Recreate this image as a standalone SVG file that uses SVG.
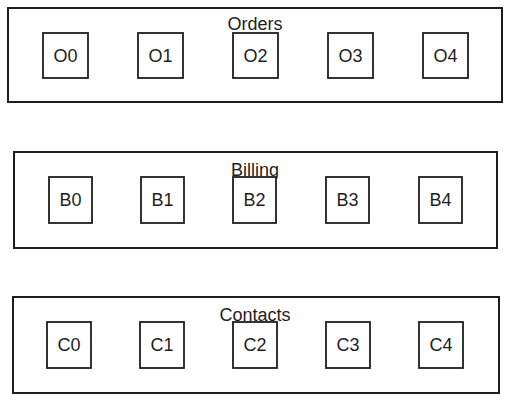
<svg xmlns="http://www.w3.org/2000/svg" width="510" height="403" viewBox="0 0 510 403">
<style>
.grp{fill:#ffffff;stroke:#1e1e1e;stroke-width:2}
.box{fill:#ffffff;stroke:#1e1e1e;stroke-width:1.8}
.lbl{font-family:"Liberation Sans","DejaVu Sans",sans-serif;font-size:18px;fill:#1e1e1e;text-anchor:middle;dominant-baseline:central}
.ttl{font-family:"Liberation Sans","DejaVu Sans",sans-serif;font-size:18px;fill:#1e1e1e;text-anchor:middle}
</style>
<rect width="510" height="403" fill="#ffffff"/>
<g id="orders">
<rect class="grp" x="8" y="8" width="494" height="94"/>
<text class="ttl" x="255" y="30">Orders</text>
</g>
<g id="O0"><rect class="box" x="43" y="33" width="45" height="45"/><text class="lbl" x="65.5" y="55.5">O0</text></g>
<g id="O1"><rect class="box" x="138" y="33" width="45" height="45"/><text class="lbl" x="160.5" y="55.5">O1</text></g>
<g id="O2"><rect class="box" x="233" y="33" width="45" height="45"/><text class="lbl" x="255.5" y="55.5">O2</text></g>
<g id="O3"><rect class="box" x="328" y="33" width="45" height="45"/><text class="lbl" x="350.5" y="55.5">O3</text></g>
<g id="O4"><rect class="box" x="423" y="33" width="45" height="45"/><text class="lbl" x="445.5" y="55.5">O4</text></g>
<g id="billing">
<rect class="grp" x="14" y="152" width="483" height="96"/>
<text class="ttl" x="255" y="176">Billing</text>
</g>
<g id="B0"><rect class="box" x="49" y="177" width="43" height="46"/><text class="lbl" x="70.5" y="200">B0</text></g>
<g id="B1"><rect class="box" x="141" y="177" width="43" height="46"/><text class="lbl" x="162.5" y="200">B1</text></g>
<g id="B2"><rect class="box" x="233" y="177" width="43" height="46"/><text class="lbl" x="254.5" y="200">B2</text></g>
<g id="B3"><rect class="box" x="326" y="177" width="43" height="46"/><text class="lbl" x="347.5" y="200">B3</text></g>
<g id="B4"><rect class="box" x="419" y="177" width="43" height="46"/><text class="lbl" x="440.5" y="200">B4</text></g>
<g id="contacts">
<rect class="grp" x="13" y="297" width="486" height="96"/>
<text class="ttl" x="255" y="321">Contacts</text>
</g>
<g id="C0"><rect class="box" x="47" y="322" width="44" height="46"/><text class="lbl" x="69" y="345">C0</text></g>
<g id="C1"><rect class="box" x="140" y="322" width="44" height="46"/><text class="lbl" x="162" y="345">C1</text></g>
<g id="C2"><rect class="box" x="233" y="322" width="44" height="46"/><text class="lbl" x="255" y="345">C2</text></g>
<g id="C3"><rect class="box" x="326" y="322" width="44" height="46"/><text class="lbl" x="348" y="345">C3</text></g>
<g id="C4"><rect class="box" x="419" y="322" width="44" height="46"/><text class="lbl" x="441" y="345">C4</text></g>
<g id="connectors"/>
</svg>
